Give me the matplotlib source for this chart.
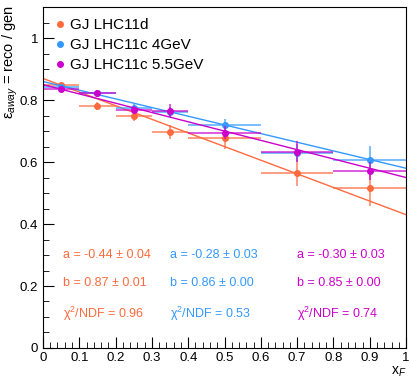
import matplotlib
matplotlib.use("Agg")
import matplotlib.pyplot as plt
from matplotlib.ticker import MultipleLocator
import numpy as np

plt.rcParams['font.family'] = ['Liberation Sans', 'DejaVu Sans']
plt.rcParams['mathtext.fontset'] = 'custom'
plt.rcParams['mathtext.rm'] = 'Liberation Sans'
plt.rcParams['mathtext.it'] = 'Liberation Sans:italic'

# bins in x_F
x_centers = [0.05, 0.15, 0.25, 0.35, 0.5, 0.7, 0.9]
x_halfwidths = [0.05, 0.05, 0.05, 0.05, 0.1, 0.1, 0.1]

labels = ["GJ LHC11d", "GJ LHC11c 4GeV", "GJ LHC11c 5.5GeV"]
colors = ["#ff6a3d", "#3399ff", "#cc00cc"]

eff_11d = [0.848, 0.781, 0.749, 0.698, 0.678, 0.565, 0.517]
err_11d = [0.008, 0.012, 0.018, 0.022, 0.036, 0.043, 0.058]
eff_4gev = [0.841, 0.822, 0.775, 0.762, 0.720, 0.630, 0.606]
err_4gev = [0.006, 0.008, 0.012, 0.015, 0.020, 0.028, 0.045]
eff_55gev = [0.836, 0.824, 0.768, 0.766, 0.695, 0.634, 0.571]
err_55gev = [0.006, 0.008, 0.012, 0.020, 0.022, 0.035, 0.030]

fit_a = [-0.44, -0.28, -0.30]
fit_a_err = [0.04, 0.03, 0.03]
fit_b = [0.87, 0.86, 0.85]
fit_b_err = [0.01, 0.00, 0.00]
chi2_ndf = [0.96, 0.53, 0.74]

x_ticks = [0, 0.1, 0.2, 0.3, 0.4, 0.5, 0.6, 0.7, 0.8, 0.9, 1.0]
x_ticklabels = ["0", "0.1", "0.2", "0.3", "0.4", "0.5", "0.6", "0.7", "0.8", "0.9", "1"]
y_ticks = [0, 0.2, 0.4, 0.6, 0.8, 1.0]
y_ticklabels = ["0", "0.2", "0.4", "0.6", "0.8", "1"]

fig = plt.figure(figsize=(4.09, 3.77), dpi=100)
ax = fig.add_axes([0.105, 0.077, 0.888, 0.904])

series = [eff_11d, eff_4gev, eff_55gev]
errors = [err_11d, err_4gev, err_55gev]
xx = np.array([0.0, 1.0])
for i in range(3):
    ax.errorbar(x_centers, series[i], yerr=errors[i], xerr=x_halfwidths,
                fmt='none', ecolor=colors[i], elinewidth=1.3, alpha=0.7, capsize=0)
    ax.plot(x_centers, series[i], 'o', color=colors[i], markersize=4, label=labels[i])
    ax.plot(xx, fit_b[i] + fit_a[i] * xx, color=colors[i], lw=1.0)

text_x = [0.055, 0.35, 0.70]
for i in range(3):
    ax.text(text_x[i], 0.30, f"a = {fit_a[i]:.2f} ± {fit_a_err[i]:.2f}",
            color=colors[i], fontsize=9, va='center')
    ax.text(text_x[i], 0.21, f"b = {fit_b[i]:.2f} ± {fit_b_err[i]:.2f}",
            color=colors[i], fontsize=9, va='center')
    ax.text(text_x[i], 0.11, f"χ$^2$/NDF = {chi2_ndf[i]:.2f}",
            color=colors[i], fontsize=9, va='center')

ax.set_xlim(0, 1)
ax.set_ylim(0, 1.1)
ax.set_xticks(x_ticks)
ax.set_xticklabels(x_ticklabels)
ax.set_yticks(y_ticks)
ax.set_yticklabels(y_ticklabels)
ax.xaxis.set_minor_locator(MultipleLocator(0.02))
ax.yaxis.set_minor_locator(MultipleLocator(0.05))
ax.tick_params(which='both', direction='in', labelsize=9.5, top=False, right=False)
ax.tick_params(which='major', length=8)
ax.tick_params(which='minor', length=4)
ax.tick_params(axis='x', pad=3)

ax.set_xlabel("x$_{F}$", fontsize=10, loc='right', labelpad=0)
ax.set_ylabel("ε$_{away}$ = reco / gen", fontsize=10.5, loc='top')
ax.yaxis.set_label_coords(-0.063, 1.005)

ax.legend(loc='upper left', frameon=False, fontsize=11, handletextpad=0.1,
          borderaxespad=0.1, labelspacing=0.4, markerscale=1.0, handlelength=1.2,
          bbox_to_anchor=(0.0, 0.99))

fig.savefig("out.png", dpi=100)
